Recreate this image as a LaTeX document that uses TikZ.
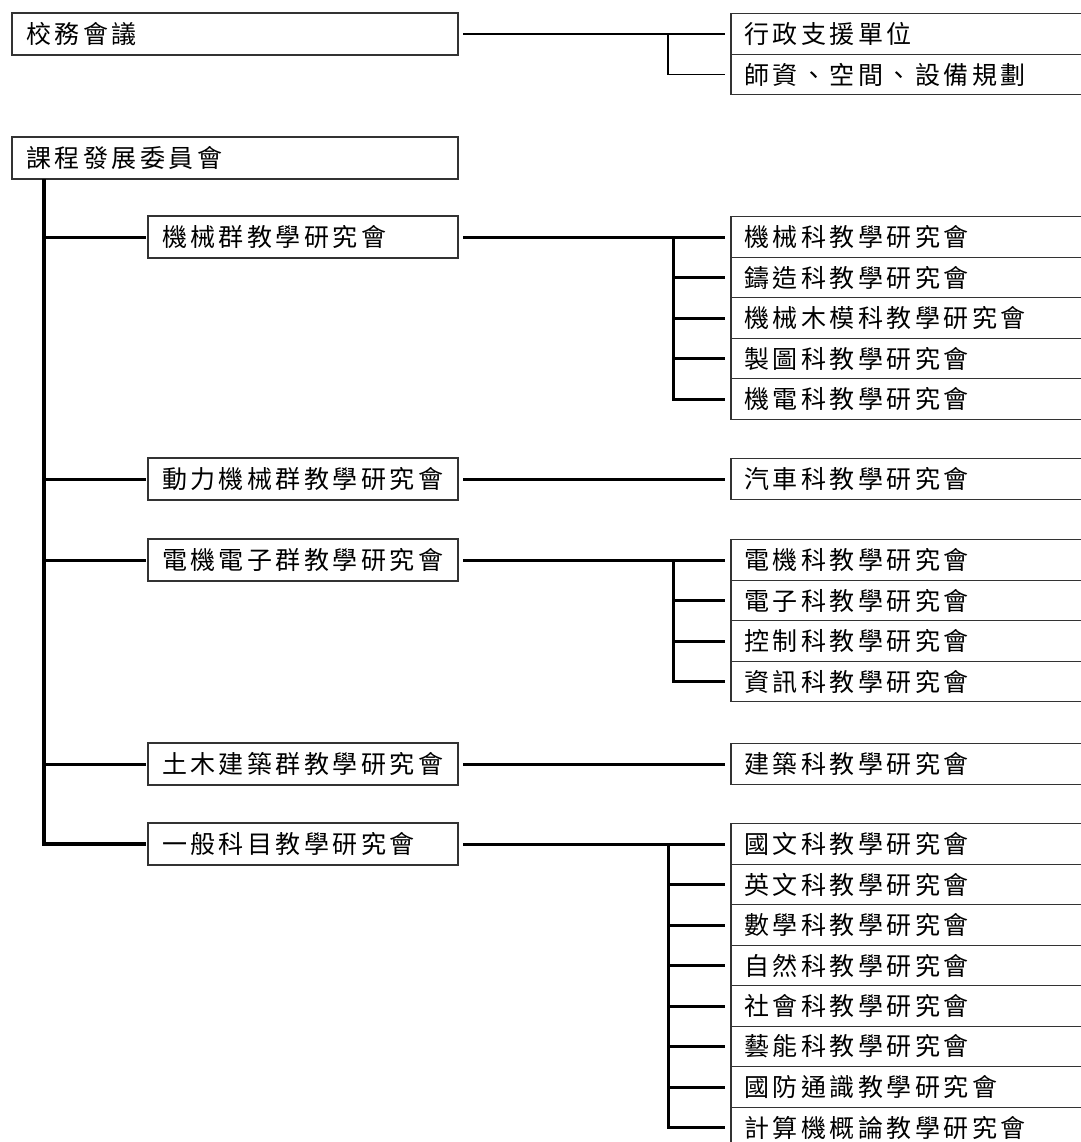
\documentclass[tikz,border=0pt]{standalone}
\usepackage{fontspec}
\newfontfamily\cjk[LetterSpace=14]{Noto Sans CJK TC}
\usetikzlibrary{positioning}

\begin{document}
\begin{tikzpicture}[
        x=0.5pt, y=-0.5pt,
        kuang/.style={draw=black!80, line width=0.6pt, outer sep=0pt, inner ysep=0pt, align=left, font=\cjk\fontsize{12.5}{14}\selectfont},
        zuo/.style={kuang, anchor=north west, minimum height=21pt, text width=209pt, inner xsep=7pt},
        qun/.style={zuo, text width=141pt},
        you/.style={kuang, minimum height=20.25pt, text width=177.5pt, inner xsep=6.5pt},
        xian/.style={line width=1.5pt},
        cuxian/.style={line width=1.7pt},
        xixian/.style={line width=0.6pt}
    ]
        \useasboundingbox (0,0) rectangle (1081,1142);
        \clip (0,0) rectangle (1081,1142);

        \node[zuo] (xw) at (12,13) {校務會議};
        \node[zuo] (kc) at (12,137) {課程發展委員會};
        \node[qun] (g1) at (148,216) {機械群教學研究會};
        \node[qun] (g2) at (148,458) {動力機械群教學研究會};
        \node[qun] (g3) at (148,539) {電機電子群教學研究會};
        \node[qun] (g4) at (148,743) {土木建築群教學研究會};
        \node[qun] (g5) at (148,823) {一般科目教學研究會};

        \node[you, right=136.5pt of xw] (xz) {行政支援單位};
        \node[you, below=0pt of xz] (sz) {師資、空間、設備規劃};

        \node[you, right=136.5pt of g1] (m1) {機械科教學研究會};
        \node[you, below=0pt of m1] (m2) {鑄造科教學研究會};
        \node[you, below=0pt of m2] (m3) {機械木模科教學研究會};
        \node[you, below=0pt of m3] (m4) {製圖科教學研究會};
        \node[you, below=0pt of m4] (m5) {機電科教學研究會};

        \node[you, right=136.5pt of g2] (d1) {汽車科教學研究會};

        \node[you, right=136.5pt of g3] (e1) {電機科教學研究會};
        \node[you, below=0pt of e1] (e2) {電子科教學研究會};
        \node[you, below=0pt of e2] (e3) {控制科教學研究會};
        \node[you, below=0pt of e3] (e4) {資訊科教學研究會};

        \node[you, right=136.5pt of g4] (t1) {建築科教學研究會};

        \node[you, right=136.5pt of g5] (y1) {國文科教學研究會};
        \node[you, below=0pt of y1] (y2) {英文科教學研究會};
        \node[you, below=0pt of y2] (y3) {數學科教學研究會};
        \node[you, below=0pt of y3] (y4) {自然科教學研究會};
        \node[you, below=0pt of y4] (y5) {社會科教學研究會};
        \node[you, below=0pt of y5] (y6) {藝能科教學研究會};
        \node[you, below=0pt of y6] (y7) {國防通識教學研究會};
        \node[you, below=0pt of y7] (y8) {計算機概論教學研究會};

        \draw[line width=1pt] ([xshift=2.5pt]xw.east) -- ([xshift=-3pt]xz.west);
        \coordinate (fx) at ([xshift=-31.5pt]xz.west);
        \draw[xixian] (fx) |- ([xshift=-3pt]sz.west);

        \coordinate (gan) at ([xshift=16pt]kc.south west);
        \draw[cuxian] (gan) |- ([xshift=-1pt]g5.west);
        \foreach \g in {g1,g2,g3,g4}
            \draw[xian] (gan |- \g.west) -- ([xshift=-1pt]\g.west);

        \draw[xian] ([xshift=2.5pt]g1.east) -- ([xshift=-3pt]m1.west);
        \coordinate (fm) at ([xshift=-29pt]m1.west);
        \draw[xian] (fm) |- ([xshift=-3pt]m5.west);
        \foreach \k in {m2,m3,m4}
            \draw[xian] (fm |- \k.west) -- ([xshift=-3pt]\k.west);

        \draw[xian] ([xshift=2.5pt]g2.east) -- ([xshift=-3pt]d1.west);

        \draw[xian] ([xshift=2.5pt]g3.east) -- ([xshift=-3pt]e1.west);
        \coordinate (fe) at ([xshift=-29pt]e1.west);
        \draw[xian] (fe) |- ([xshift=-3pt]e4.west);
        \foreach \k in {e2,e3}
            \draw[xian] (fe |- \k.west) -- ([xshift=-3pt]\k.west);

        \draw[xian] ([xshift=2.5pt]g4.east) -- ([xshift=-3pt]t1.west);

        \draw[xian] ([xshift=2.5pt]g5.east) -- ([xshift=-3pt]y1.west);
        \coordinate (fy) at ([xshift=-31.5pt]y1.west);
        \draw[xian] (fy) |- ([xshift=-3pt]y8.west);
        \foreach \k in {y2,y3,y4,y5,y6,y7}
            \draw[xian] (fy |- \k.west) -- ([xshift=-3pt]\k.west);
    \end{tikzpicture}
\end{document}
